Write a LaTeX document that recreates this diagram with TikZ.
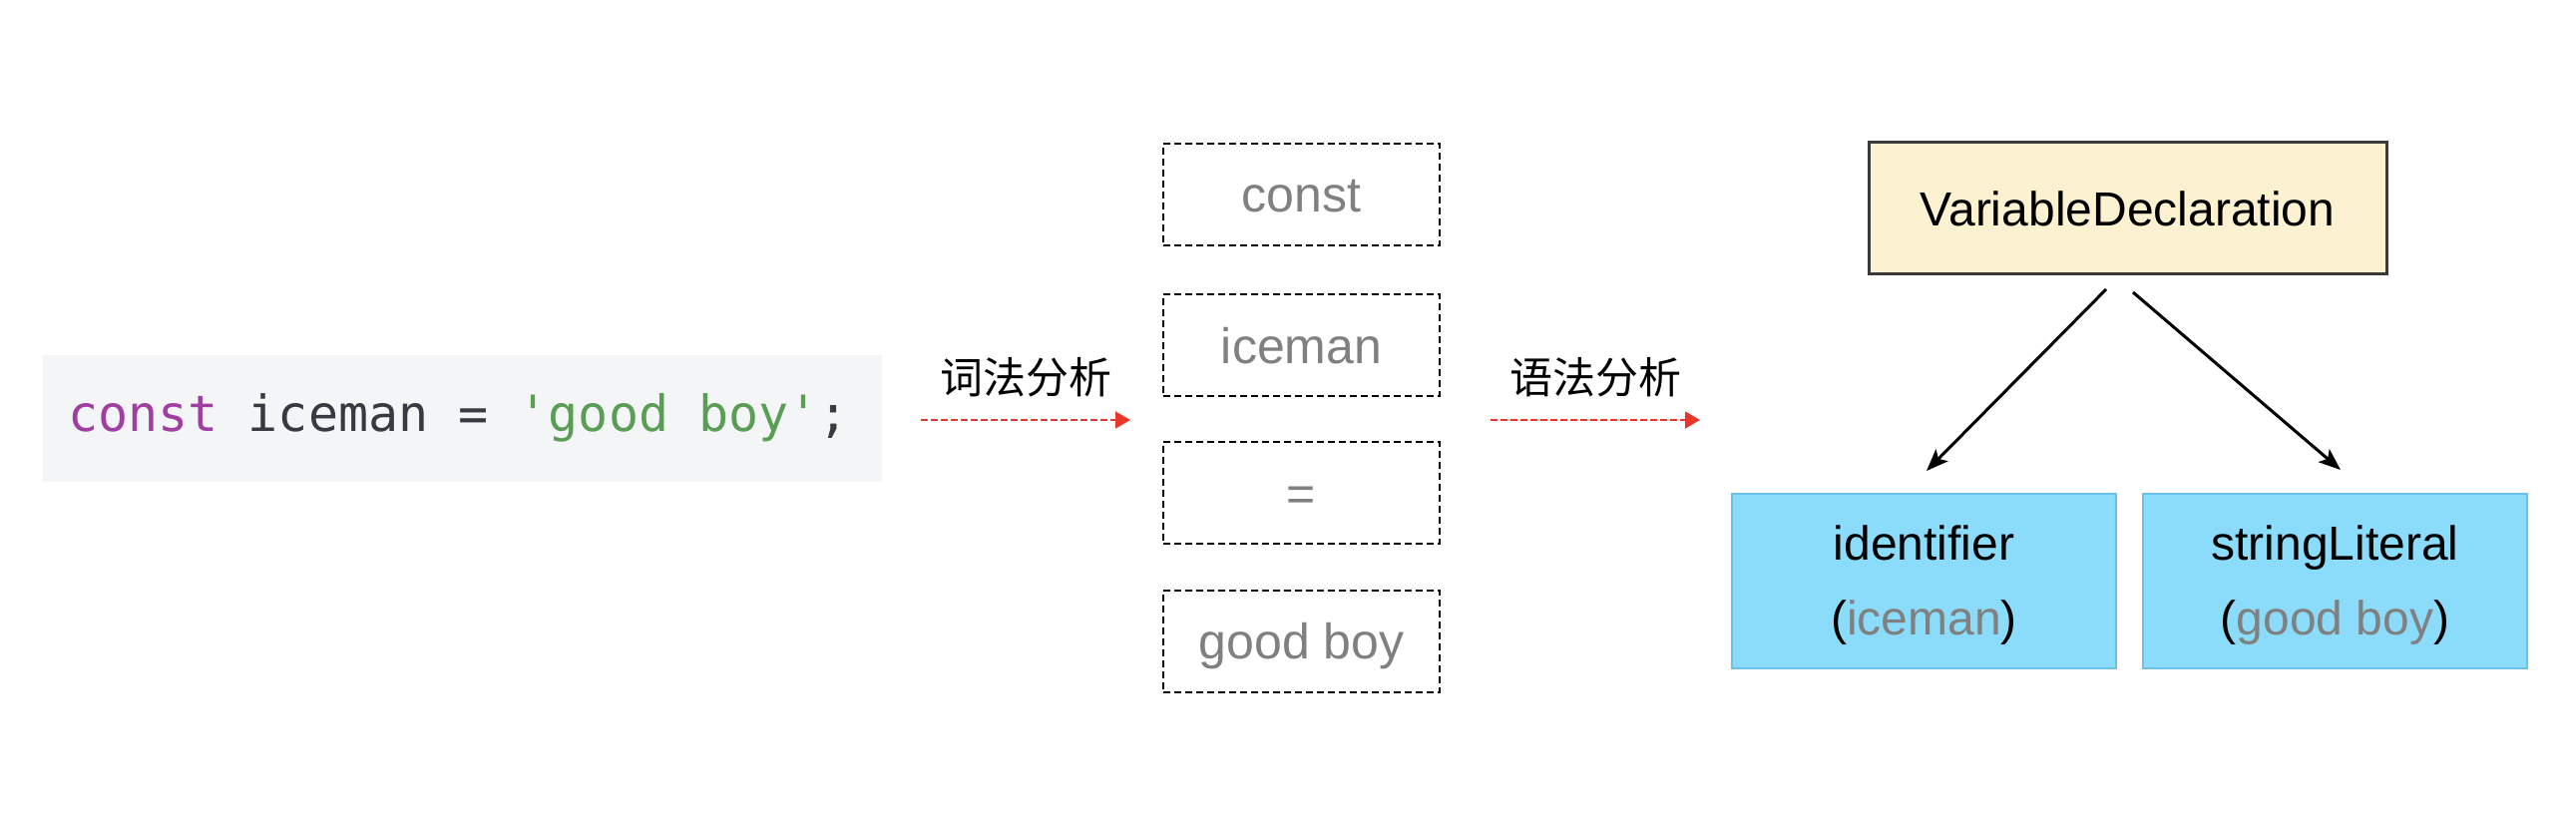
\documentclass[tikz,border=0pt]{standalone}
\usepackage{fontspec}
\setmainfont{Liberation Sans}
\newfontfamily\codefont{DejaVu Sans Mono}
\newfontfamily\cjkfont{Noto Sans CJK SC}
\usetikzlibrary{arrows.meta}
\definecolor{codebg}{HTML}{F4F5F7}
\definecolor{kwpurple}{HTML}{A03EA2}
\definecolor{strgreen}{HTML}{5A9E55}
\definecolor{codedark}{HTML}{383A42}
\definecolor{tokgray}{HTML}{808080}
\definecolor{arrowred}{HTML}{E8372A}
\definecolor{declfill}{HTML}{FCF1D1}
\definecolor{declline}{HTML}{3A3A3A}
\definecolor{nodefill}{HTML}{8BDCFB}
\definecolor{nodeline}{HTML}{6BC0EC}
\tikzset{
  bigfont/.style={font=\fontsize{50}{60}\selectfont},
  codebox/.style={fill=codebg, draw=none, inner sep=0pt, minimum width=841pt, minimum height=127pt},
  tokbox/.style={draw=black, line width=2pt, dash pattern=on 7pt off 4pt, inner sep=0pt,
    minimum width=277pt, minimum height=102pt, text=tokgray, bigfont, text height=36pt, text depth=0pt},
  declbox/.style={draw=declline, fill=declfill, line width=3pt, inner sep=0pt,
    minimum width=519pt, minimum height=132pt, font=\fontsize{48}{58}\selectfont, text height=35pt, text depth=0pt},
  astbox/.style={draw=nodeline, fill=nodefill, line width=2.5pt, inner sep=0pt,
    minimum width=385pt, minimum height=175pt},
  asttext/.style={anchor=base, inner sep=0pt, font=\fontsize{48}{58}\selectfont},
  steplabel/.style={anchor=base, inner sep=0pt, font=\cjkfont\fontsize{43}{50}\selectfont},
  phasearrow/.style={draw=arrowred, line width=2pt, dash pattern=on 6.5pt off 3.5pt,
    -{Triangle[length=15pt,width=17pt]}},
  treearrow/.style={draw=black, line width=3pt, -{Stealth[length=22pt,width=17pt,inset=5pt]}}
}
\begin{document}
\begin{tikzpicture}[x=1pt,y=-1pt]
\useasboundingbox (0,0) rectangle (2582,826);
\fill[white] (0,0) rectangle (2582,826);

% source code
\node[codebox] (code) at (463.5,419.5) {};
\node[anchor=base west, inner sep=0pt, font=\codefont\fontsize{50}{60}\selectfont] (codetext) at (68,432)
  {\textcolor{kwpurple}{const} \textcolor{codedark}{iceman =} \textcolor{strgreen}{'good boy'}\textcolor{codedark}{;}};

% lexical analysis
\coordinate (r1s) at (923,421);
\coordinate (r1e) at (1133,421);
\draw[phasearrow] (r1s) -- (r1e);
\node[steplabel] (lex) at (1028,394) {词法分析};

% tokens
\node[tokbox] (t1) at (1304.5,195) {const};
\node[tokbox] (t2) at (1304.5,346) {iceman};
\node[tokbox] (t3) at (1304.5,494) {=};
\node[tokbox] (t4) at (1304.5,642.5) {good boy};

% syntax analysis
\coordinate (r2s) at (1494,421);
\coordinate (r2e) at (1704,421);
\draw[phasearrow] (r2s) -- (r2e);
\node[steplabel] (syn) at (1599,394) {语法分析};

% AST
\node[declbox] (decl) at (2132.5,209) {VariableDeclaration};
\node[astbox] (idn) at (1928.5,582.5) {};
\node[astbox] (strl) at (2340.5,582.5) {};
\node[asttext] (idn1) at (1928.5,561) {identifier};
\node[asttext] (idn2) at (1928.5,636) {(\textcolor{tokgray}{iceman})};
\node[asttext] (strl1) at (2340.5,561) {stringLiteral};
\node[asttext] (strl2) at (2340.5,636) {(\textcolor{tokgray}{good boy})};

\coordinate (a1s) at (2111,290);
\coordinate (a1e) at (1931,472);
\coordinate (a2s) at (2138,293);
\coordinate (a2e) at (2346,471);
\draw[treearrow] (a1s) -- (a1e);
\draw[treearrow] (a2s) -- (a2e);
\end{tikzpicture}
\end{document}
